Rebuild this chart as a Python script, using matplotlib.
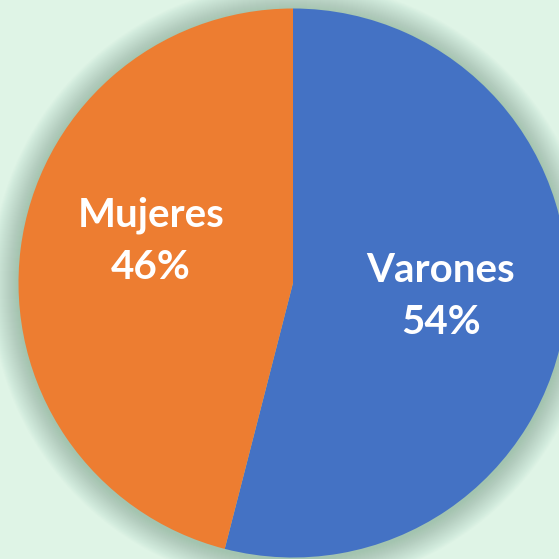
import numpy as np
import matplotlib.pyplot as plt
from matplotlib.patches import Circle

# data
labels = ['Varones', 'Mujeres']
shares = [54, 46]
colors = ['#4472C4', '#ED7D31']

bg = '#DFF4E6'
cx, cy, r = 293, 276, 274.5

fig = plt.figure(figsize=(5.59, 5.59), dpi=100)
fig.patch.set_facecolor(bg)
ax = fig.add_axes([0, 0, 1, 1])
ax.set_facecolor(bg)

# soft shadow around the pie
for k in range(28, 0, -1):
    ax.add_patch(Circle((cx, cy - 2), r + k, color='#6F9A80', alpha=0.018, lw=0))

ax.pie(shares, colors=colors, startangle=90, counterclock=False,
       center=(cx, cy), radius=r, wedgeprops=dict(lw=0), frame=True)
ax.set_xlim(0, 559)
ax.set_ylim(0, 559)
ax.set_aspect('equal')
ax.axis('off')

font = dict(color='white', fontsize=29, fontweight='bold', family='Lato',
            ha='center', va='center', linespacing=1.5)
ax.text(441, 559 - 296, labels[0] + '\n' + str(shares[0]) + '%', **font)
ax.text(151, 559 - 241, labels[1] + '\n' + str(shares[1]) + '%', **font)

fig.savefig('out.png', dpi=100, facecolor=bg)
